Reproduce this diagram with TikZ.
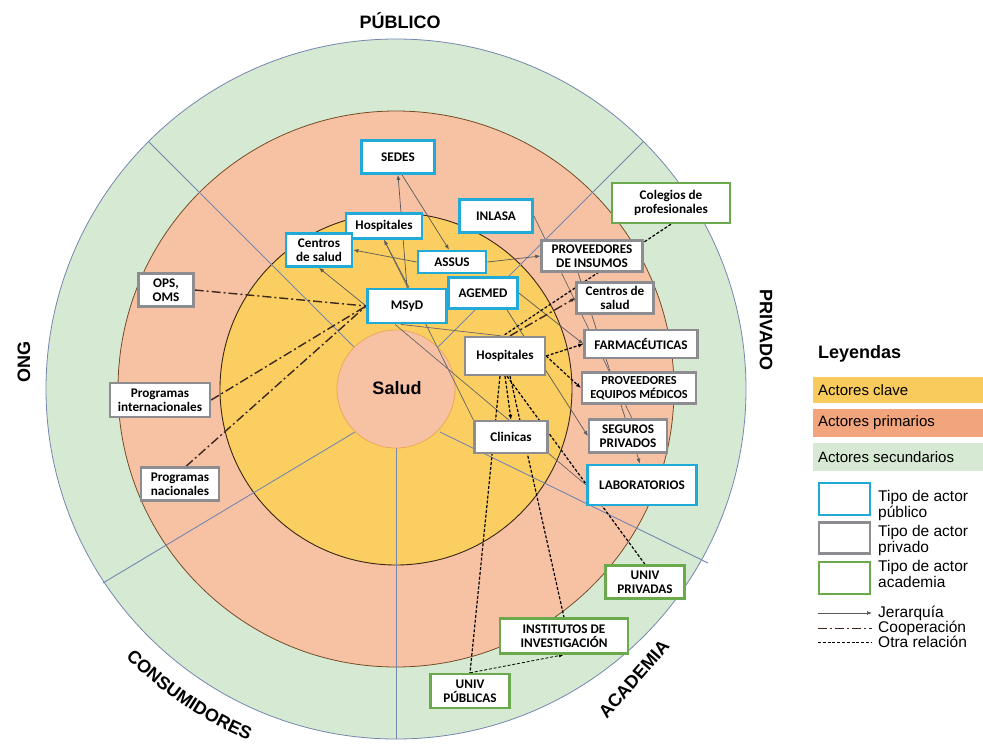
\documentclass[tikz,border=0pt]{standalone}
\usepackage{fontspec}
\setmainfont{Liberation Sans}
\newfontfamily\carl{Carlito}
\usetikzlibrary{arrows.meta,decorations.text,calc}
\pgfdeclarelayer{bg}\pgfdeclarelayer{mid}
\pgfsetlayers{bg,mid,main}
\definecolor{cgreen}{RGB}{214,234,211}
\definecolor{corange}{RGB}{247,194,164}
\definecolor{cyellow}{RGB}{250,206,96}
\definecolor{lorange}{RGB}{242,164,124}
\definecolor{lyellow}{RGB}{249,203,92}
\definecolor{bpub}{RGB}{32,170,216}
\definecolor{bpriv}{RGB}{140,140,145}
\definecolor{bacad}{RGB}{106,170,76}
\definecolor{secl}{RGB}{117,134,176}
\definecolor{coop}{RGB}{60,40,30}
\tikzset{
  box/.style 2 args={draw, fill=white, line width=2.6pt, minimum width=#1, minimum height=#2,
     inner sep=0pt, align=center, font=\carl\bfseries\fontsize{13.2}{14}\selectfont},
  pub/.style={draw=bpub, line width=2.8pt},
  priv/.style={draw=bpriv, line width=2.3pt},
  acad/.style={draw=bacad, line width=2.3pt},
  jer/.style={draw=black!65, line width=0.7pt, -{Latex[length=5pt,width=4pt]}},
  plain/.style={draw=black!60, line width=0.7pt},
  coopl/.style={draw=coop, line width=1.4pt, dash pattern=on 9pt off 3pt on 2pt off 3pt},
  otra/.style={draw=black, line width=1.2pt, dash pattern=on 3pt off 1.8pt},
  region/.style={font=\bfseries\fontsize{18}{18}\selectfont},
  leg/.style={font=\fontsize{15}{15}\selectfont, anchor=west, inner sep=0pt},
  legs/.style={font=\fontsize{15.5}{16}\selectfont, anchor=west, inner sep=0pt, align=left},
}
\begin{document}
\begin{tikzpicture}[x=1pt,y=-1pt]
\useasboundingbox (0,0) rectangle (983,747);
% ---------- nodes ----------
\node[box={73pt}{33pt},pub] (sedes) at (398,157) {SEDES};
\node[box={76pt}{25pt},pub] (hosppub) at (384,226) {Hospitales};
\node[box={66pt}{33pt},pub] (centpub) at (319,250) {Centros\\de salud};
\node[box={73pt}{33pt},pub] (inlasa) at (496,216) {INLASA};
\node[box={68pt}{22pt},pub] (assus) at (452,262) {ASSUS};
\node[box={69pt}{31pt},pub] (agemed) at (483,293) {AGEMED};
\node[box={79pt}{34pt},pub] (msyd) at (407,306) {MSyD};
\node[box={118pt}{40pt},acad] (colegios) at (671,203) {Colegios de\\profesionales};
\node[box={101pt}{31pt},priv] (provins) at (592,256) {PROVEEDORES\\DE INSUMOS};
\node[box={77pt}{31pt},priv] (centpriv) at (615,298) {Centros de\\salud};
\node[box={113pt}{28pt},priv] (farma) at (641,344) {FARMACÉUTICAS};
\node[box={80pt}{38pt},priv] (hosppriv) at (505,356) {Hospitales};
\node[box={114pt}{31pt},priv,font=\carl\bfseries\fontsize{12.3}{13.5}\selectfont] (proveq) at (639,388) {PROVEEDORES\\EQUIPOS MÉDICOS};
\node[box={73pt}{32pt},priv] (clinicas) at (511,437) {Clinicas};
\node[box={78pt}{33pt},priv] (seguros) at (628,436) {SEGUROS\\PRIVADOS};
\node[box={109pt}{40pt},pub] (labs) at (642,485) {LABORATORIOS};
\node[box={79pt}{33pt},acad] (univpriv) at (645,582) {UNIV\\PRIVADAS};
\node[box={128pt}{35pt},acad] (instit) at (564,636) {INSTITUTOS DE\\INVESTIGACIÓN};
\node[box={79pt}{34pt},acad] (univpub) at (470,691) {UNIV\\PÚBLICAS};
\node[box={55pt}{33pt},priv] (ops) at (166,290) {OPS,\\OMS};
\node[box={100pt}{34pt},priv] (progint) at (160,400) {Programas\\internacionales};
\node[box={78pt}{33pt},priv] (prognac) at (180,484) {Programas\\nacionales};
% ---------- background rings ----------
\begin{pgfonlayer}{bg}
\fill[white] (0,0) rectangle (983,747);
\draw[draw=secl, line width=0.8pt, fill=cgreen] (396,389) circle (350);
\draw[draw=black!40!brown, line width=0.8pt, fill=corange] (396,389) circle (278);
\draw[draw=black!70!brown, line width=0.9pt, fill=cyellow] (396,389) circle (176);
\draw[secl, line width=0.9pt] (354.3,347.3) -- (148.5,141.5);
\draw[secl, line width=0.9pt] (437.7,347.3) -- (643.5,141.5);
\draw[secl, line width=0.9pt] (396,448) -- (396,739);
\draw[secl, line width=0.9pt] (355,432) -- (103,583);
\draw[secl, line width=0.9pt] (440,432) -- (708,563);
\draw[draw=orange!60!brown!70, line width=0.8pt, fill=corange] (396,389) circle (59);
\node[font=\bfseries\fontsize{18}{18}\selectfont] (salud) at (397,388) {Salud};
\end{pgfonlayer}
% ---------- connectors ----------
\begin{pgfonlayer}{mid}
\draw[jer] (msyd.north) -- (sedes.south);
\draw[jer] ([xshift=4pt]sedes.south) -- ([xshift=-3pt]assus.north);
\draw[jer] (assus.west) -- (centpub.east);
\draw[jer] (msyd.west) -- (centpub.south);
\draw[jer] ([xshift=2pt]msyd.north) -- (hosppub.south);
\draw[jer] (assus.east) -- (provins.west);
\draw[plain] ([xshift=-6pt]msyd.south) -- ([xshift=-4pt]hosppriv.north);
\draw[jer] (agemed.east) -- (farma.west);
\draw[plain] ([xshift=-12pt]msyd.south) -- (labs.west);
\draw[plain] (hosppub.south) -- (clinicas.north west);
\draw[jer] ([xshift=24pt]agemed.south) -- (seguros.west);
\draw[plain] (inlasa.east) -- ([xshift=4pt]seguros.north);
\draw[jer] ([xshift=-14pt]provins.south) -- ([xshift=-2pt]labs.north);
\draw[otra, line width=0.8pt, -{Latex[length=5pt,width=4pt]}] (univpub.north) -- (instit.south);
% cooperation
\draw[coopl] (ops.east) -- (msyd.west);
\draw[coopl] (progint.east) -- (msyd.west);
\draw[coopl] ([xshift=6pt]prognac.north) -- (msyd.west);
\draw[coopl,-{Latex[length=5pt,width=4pt]}] ([xshift=5pt]hosppriv.north) -- (centpriv.west);
% otra relacion
\draw[otra] (colegios.south) -- ([xshift=-2pt]hosppriv.north);
\draw[otra,-{Latex[length=5pt,width=4pt]}] (hosppriv.east) -- (farma.west);
\draw[otra,-{Latex[length=5pt,width=4pt]}] (hosppriv.east) -- (proveq.west);
\draw[otra,-{Latex[length=5pt,width=4pt]}] (hosppriv.south) -- (clinicas.north);
\draw[otra] ([xshift=-5pt]hosppriv.south) -- (univpub.north);
\draw[otra] ([xshift=5pt]hosppriv.south) -- (instit.north);
\draw[otra] ([xshift=2pt]hosppriv.south) -- (univpriv.north);
\end{pgfonlayer}
% ---------- region labels ----------
\node[region] (lpub) at (400,21) {PÚBLICO};
\node[region, rotate=90] (long) at (24,362) {ONG};
\node[region, rotate=-90] (lpriv) at (766,330) {PRIVADO};
\node[region, rotate=49] (lacad) at (634,679) {ACADEMIA};
\path[decorate, decoration={text along path, text align=center,
   text={|\bfseries\fontsize{18}{18}\selectfont|CONSUMIDORES}}]
   (396,389) ++(142:381) arc[start angle=142, end angle=106, radius=381];
% ---------- legend ----------
\node[font=\bfseries\fontsize{18}{18}\selectfont, anchor=west, inner sep=0pt] (leyt) at (818,354) {Leyendas};
\fill[lyellow] (813,377) rectangle (983,403);
\node[leg] (l1) at (818,390) {Actores clave};
\fill[lorange] (813,409) rectangle (983,437);
\node[leg] (l2) at (818,423) {Actores primarios};
\fill[cgreen] (813,443) rectangle (983,471);
\node[leg] (l3) at (818,457) {Actores secundarios};
\node[draw=bpub, line width=2.4pt, minimum width=51pt, minimum height=32pt, inner sep=0pt] (b1) at (844.5,499) {};
\node[legs] (t1) at (878,505) {Tipo de actor\\público};
\node[draw=bpriv, line width=2.2pt, minimum width=51pt, minimum height=31pt, inner sep=0pt] (b2) at (844.5,538) {};
\node[legs] (t2) at (878,540) {Tipo de actor\\privado};
\node[draw=bacad, line width=2.2pt, minimum width=51pt, minimum height=32pt, inner sep=0pt] (b3) at (844.5,578) {};
\node[legs] (t3) at (878,574) {Tipo de actor\\academia};
\coordinate (j1) at (818,613); \coordinate (j2) at (872,613);
\draw[jer] (j1) -- (j2);
\node[legs] (t4) at (878,613) {Jerarquía};
\coordinate (c1) at (818,628); \coordinate (c2) at (872,628);
\draw[coopl, line width=1pt] (c1) -- (c2);
\node[legs] (t5) at (878,628) {Cooperación};
\coordinate (o1) at (818,642); \coordinate (o2) at (872,642);
\draw[otra, line width=0.9pt] (o1) -- (o2);
\node[legs] (t6) at (878,642) {Otra relación};
\end{tikzpicture}
\end{document}
